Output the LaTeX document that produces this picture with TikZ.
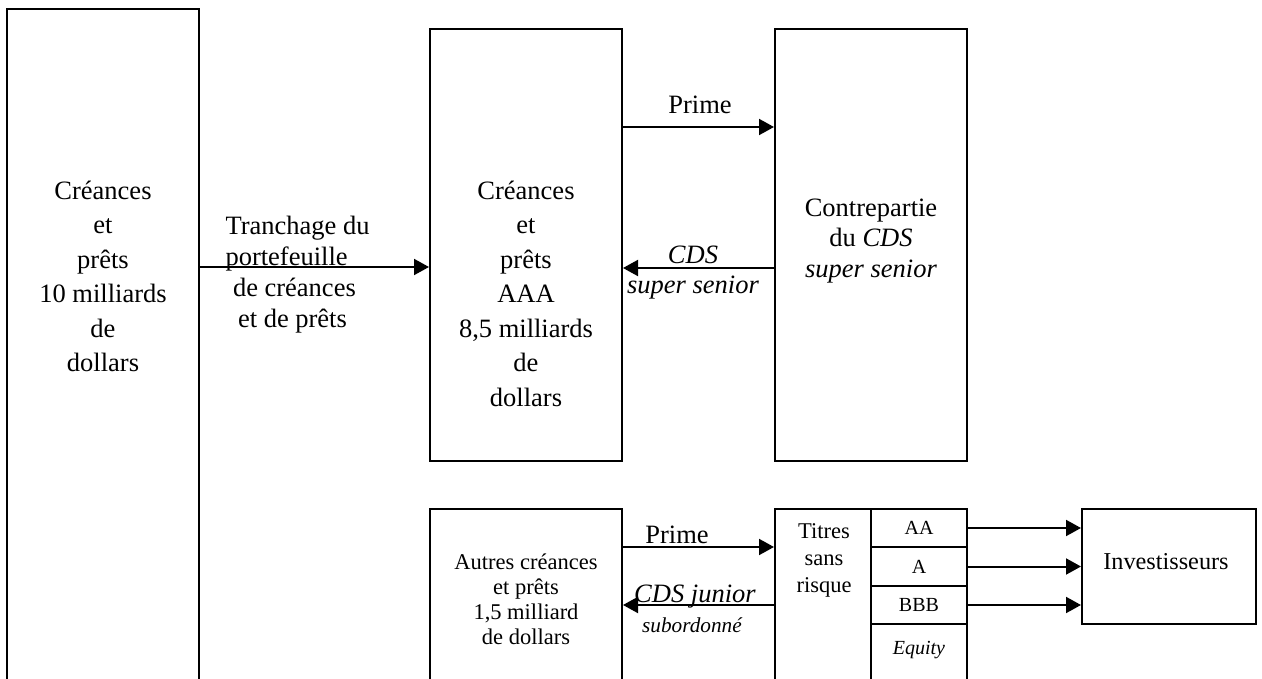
\documentclass[tikz,border=0pt]{standalone}
\usepackage{fontspec}
\setmainfont{Liberation Serif}
\usetikzlibrary{arrows.meta}

\tikzset{
  bloc/.style={draw, line width=0.8pt, inner sep=0pt},
  fleche/.style={line width=0.8pt, -{Triangle[length=6pt,width=6.4pt]}},
  txt/.style={align=center, inner sep=0pt, font=\fontsize{10.6}{13.8}\selectfont},
  petit/.style={align=center, inner sep=0pt, font=\fontsize{9}{10}\selectfont},
  mini/.style={inner sep=0pt, font=\fontsize{8}{9.6}\selectfont}
}

\begin{document}
\begin{tikzpicture}[x=0.4pt, y=-0.4pt]
    \useasboundingbox (0,0) rectangle (1262,679);
    \clip (0,0) rectangle (1262,679);
    % boites
    \node[bloc, minimum width=76.8pt, minimum height=276.4pt] (port) at (103,354.5) {};
    \node[bloc, minimum width=76.8pt, minimum height=172.8pt] (aaa) at (526,245) {};
    \node[bloc, minimum width=76.8pt, minimum height=172.8pt] (contre) at (871,245) {};
    \node[bloc, minimum width=76.8pt, minimum height=76.4pt] (autres) at (526,604.5) {};
    \node[bloc, minimum width=38.4pt, minimum height=76.4pt] (titres) at (823,604.5) {};
    \node[bloc, mini, minimum width=38.4pt, minimum height=15.2pt] (aa) at (919,528) {AA};
    \node[bloc, mini, minimum width=38.4pt, minimum height=15.6pt] (a) at (919,566.5) {A};
    \node[bloc, mini, minimum width=38.4pt, minimum height=15.2pt] (bbb) at (919,605) {BBB};
    \node[bloc, minimum width=38.4pt, minimum height=30.4pt] (eq) at (919,662) {};
    \node[bloc, minimum width=69.6pt, minimum height=46pt] (inv) at (1169,566.5) {};
    % textes des boites
    \node[txt] (t-port) at (103,276.5) {Créances\\et\\prêts\\10 milliards\\de\\dollars};
    \node[txt] (t-aaa) at (526,293.5) {Créances\\et\\prêts\\AAA\\8,5 milliards\\de\\dollars};
    \node[txt] (t-contre) at (871,241) {Contrepartie\\[-1.5pt]du \textit{CDS}\\[-1.5pt]\textit{super senior}};
    \node[petit] (t-autres) at (526,599.5) {Autres créances\\et prêts\\1,5 milliard\\de dollars};
    \node[petit, font=\fontsize{9}{10.8}\selectfont] (t-titres) at (824,560) {Titres\\sans\\risque};
    \node[mini] (t-eq) at (919,650) {\textit{Equity}};
    \node[txt, font=\fontsize{9.7}{12}\selectfont] (t-inv) at (1166,562) {Investisseurs};
    % fleches
    \coordinate (y1) at (0,267);
    \coordinate (y2) at (0,127);
    \coordinate (y3) at (0,268);
    \coordinate (y4) at (0,547);
    \coordinate (y5) at (0,605);
    \draw[fleche] (port.east |- y1) -- (aaa.west |- y1);
    \draw[fleche] (aaa.east |- y2) -- (contre.west |- y2);
    \draw[fleche] (contre.west |- y3) -- (aaa.east |- y3);
    \draw[fleche] (autres.east |- y4) -- (titres.west |- y4);
    \draw[fleche] (titres.west |- y5) -- (autres.east |- y5);
    \foreach \t in {aa, a, bbb}
        \draw[fleche] (\t.east) -- (\t.east -| inv.west);
    % etiquettes
    \node[txt, anchor=west, align=left, font=\fontsize{10.6}{12.4}\selectfont] (l-tranche) at (225,275)
        {Tranchage du\\portefeuille\\\hspace*{3pt}de créances\\\hspace*{5pt}et de prêts};
    \node[txt] (l-prime1) at (700,105) {Prime};
    \node[txt] (l-cds1) at (693,273) {\textit{CDS}\\[-1.8pt]\textit{super senior}};
    \node[txt] (l-prime2) at (677,535) {Prime};
    \node[txt] (l-cds2) at (695,597) {\textit{CDS junior}};
    \node[mini, font=\fontsize{8.5}{10}\selectfont\itshape] (l-sub) at (692,625) {subordonné};
\end{tikzpicture}
\end{document}
